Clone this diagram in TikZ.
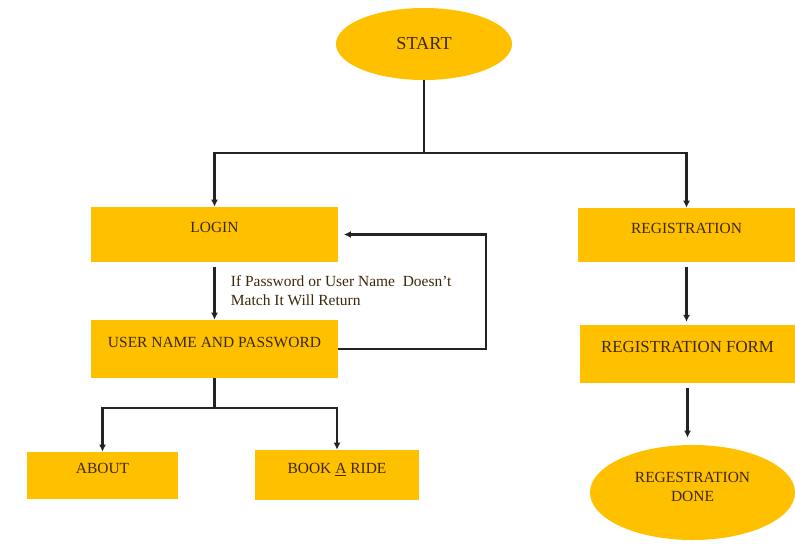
\documentclass[tikz,border=0pt]{standalone}
\usepackage{fontspec}
\setmainfont{Liberation Serif}
\usepackage{xcolor}
\definecolor{boxamber}{RGB}{255,192,0}
\definecolor{textbrown}{RGB}{60,40,10}
\definecolor{lineblack}{RGB}{35,35,35}
\usetikzlibrary{positioning,shapes.geometric,arrows.meta,calc}

\begin{document}
\begin{tikzpicture}[x=0.025cm,y=-0.025cm,
  every node/.style={align=center,text=textbrown,font=\fontsize{11}{13.5}\selectfont},
  flowbox/.style={rectangle,fill=boxamber,inner sep=2pt,text depth=0.35cm},
  flowoval/.style={ellipse,fill=boxamber,inner sep=0pt},
  flowline/.style={draw=lineblack,line width=1.6pt},
  flowarrow/.style={flowline,-{Latex[length=5pt,width=5pt]}}]
  % lienzo 795 x 544 px, y hacia abajo
  \useasboundingbox (0,0) rectangle (795,544);
  % --- Inicio ---
  \node[flowoval,minimum width=4.4cm,minimum height=1.8cm,font=\fontsize{13}{15}\selectfont] (start) at (424,44) {START};
  % --- Rama login ---
  \node[flowbox,minimum width=6.175cm,minimum height=1.375cm] (login) at (214.5,234.5) {LOGIN};
  \node[flowbox,minimum width=6.175cm,minimum height=1.45cm] (userpass) at (214.5,349) {USER NAME AND PASSWORD};
  \node[flowbox,minimum width=3.775cm,minimum height=1.175cm] (about) at (102.5,475.5) {ABOUT};
  \node[flowbox,minimum width=4.1cm,minimum height=1.25cm] (bookride) at (337,475) {BOOK \underline{A} RIDE};
  \node[anchor=west,align=left] (returnnote) at (226,291) {If Password or User Name\ \ Doesn't\\Match It Will Return};
  % --- Rama registro ---
  \node[flowbox,minimum width=5.425cm,minimum height=1.35cm] (register) at (686.5,235) {REGISTRATION};
  \node[flowbox,minimum width=5.375cm,minimum height=1.45cm,font=\fontsize{12}{14}\selectfont] (regform) at (687.5,354) {REGISTRATION FORM};
  \node[flowoval,minimum width=5.125cm,minimum height=2.375cm,text depth=0.3cm] (regdone) at (692.5,492.5) {REGESTRATION\\DONE};
  % puntos de reparto
  \coordinate (topsplit) at (424,153);
  \coordinate (botsplit) at (214.5,408);
  \coordinate (loopx) at (486,0);
  % --- Conectores ---
  \draw[flowline] (start.south) -- (topsplit);
  \draw[flowarrow] (topsplit) -| (login.north);
  \draw[flowarrow] (topsplit) -| (register.north);
  \draw[flowarrow,shorten <=3pt] (login.south) -- (userpass.north);
  \draw[flowarrow] (userpass.east) -| (loopx |- login.east) -- ([xshift=4pt]login.east);
  \draw[flowline] (userpass.south) -- (botsplit);
  \draw[flowarrow] (botsplit) -| (about.north);
  \draw[flowarrow] (botsplit) -| (bookride.north);
  \draw[flowarrow,shorten <=3pt,shorten >=2pt] (register.south) -- (register.south |- regform.north);
  \draw[flowarrow,shorten <=3pt,shorten >=5pt] (regform.south) -- (regform.south |- regdone.north);
\end{tikzpicture}
\end{document}
